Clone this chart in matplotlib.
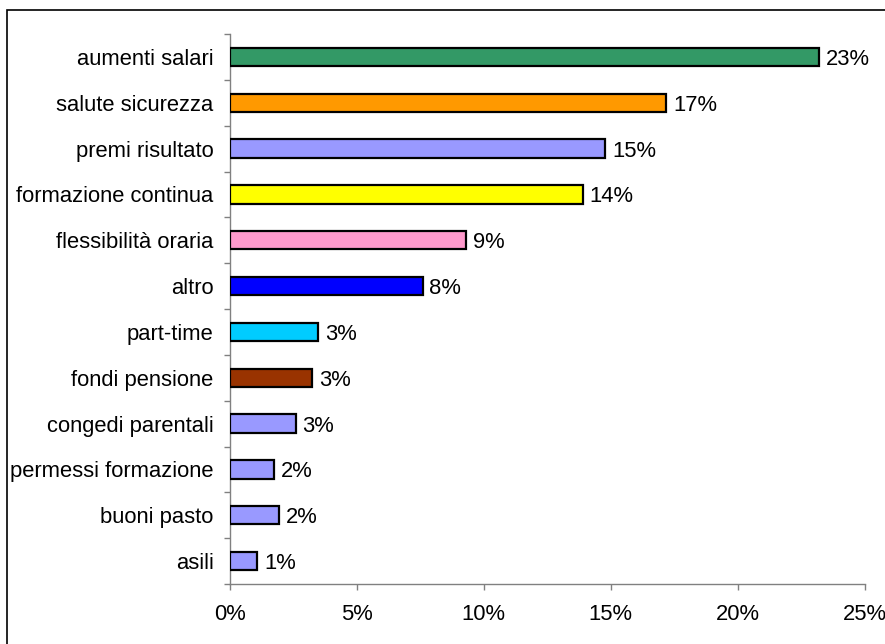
import matplotlib
matplotlib.use("Agg")
import matplotlib.pyplot as plt
from matplotlib.patches import Rectangle
from matplotlib.ticker import FixedLocator

categories = ["aumenti salari", "salute sicurezza", "premi risultato", "formazione continua",
              "flessibilità oraria", "altro", "part-time", "fondi pensione",
              "congedi parentali", "permessi formazione", "buoni pasto", "asili"]
values = [23.2, 17.2, 14.8, 13.9, 9.3, 7.6, 3.5, 3.25, 2.6, 1.75, 1.95, 1.1]
value_labels = ["23%", "17%", "15%", "14%", "9%", "8%", "3%", "3%", "3%", "2%", "2%", "1%"]
bar_colors = ["#339966", "#FF9900", "#9999FF", "#FFFF00", "#FF99CC", "#0000FF",
              "#00CCFF", "#993300", "#9999FF", "#9999FF", "#9999FF", "#9999FF"]
x_ticks = [0, 5, 10, 15, 20, 25]
x_tick_labels = ["0%", "5%", "10%", "15%", "20%", "25%"]

plt.rcParams['font.family'] = ['Liberation Sans', 'DejaVu Sans']
FS = 15.8

W, H = 885, 644
fig = plt.figure(figsize=(W / 100, H / 100), dpi=100)
fig.patch.set_facecolor("white")

# outer border (cut at right/bottom like the reference)
fig.patches.append(Rectangle((7 / W, -0.05), 1.1, 1 - 10 / H + 0.05, transform=fig.transFigure,
                             fill=False, edgecolor="#000000", linewidth=1.2))

left, right = 229.5 / W, 864.5 / W
bottom, top = 1 - 584 / H, 1 - 34 / H
ax = fig.add_axes([left, bottom, right - left, top - bottom])

n = len(categories)
ypos = list(range(n))
ax.barh(ypos, values, height=0.4, color=bar_colors, edgecolor="black", linewidth=1.6, zorder=3)

for y, v, lab in zip(ypos, values, value_labels):
    ax.annotate(lab, (v, y), xytext=(5, 0), textcoords="offset points",
                va="center_baseline", ha="left", fontsize=FS, color="black")

ax.set_xlim(0, 25)
ax.set_ylim(n - 0.5, -0.5)

ax.set_yticks(ypos)
ax.set_yticklabels(categories, fontsize=FS, va="center_baseline")
ax.tick_params(axis="y", which="major", length=0, pad=11.5)
ax.yaxis.set_minor_locator(FixedLocator([i - 0.5 for i in range(n + 1)]))
ax.tick_params(axis="y", which="minor", length=4.5, width=1, color="#808080", direction="out")

ax.set_xticks(x_ticks)
ax.set_xticklabels(x_tick_labels, fontsize=FS)
ax.tick_params(axis="x", which="major", length=4.5, width=1, color="#808080", direction="out", pad=10)

for s in ["top", "right"]:
    ax.spines[s].set_visible(False)
for s in ["left", "bottom"]:
    ax.spines[s].set_color("#808080")
    ax.spines[s].set_linewidth(1)

fig.savefig("out.png", dpi=100, facecolor="white")
